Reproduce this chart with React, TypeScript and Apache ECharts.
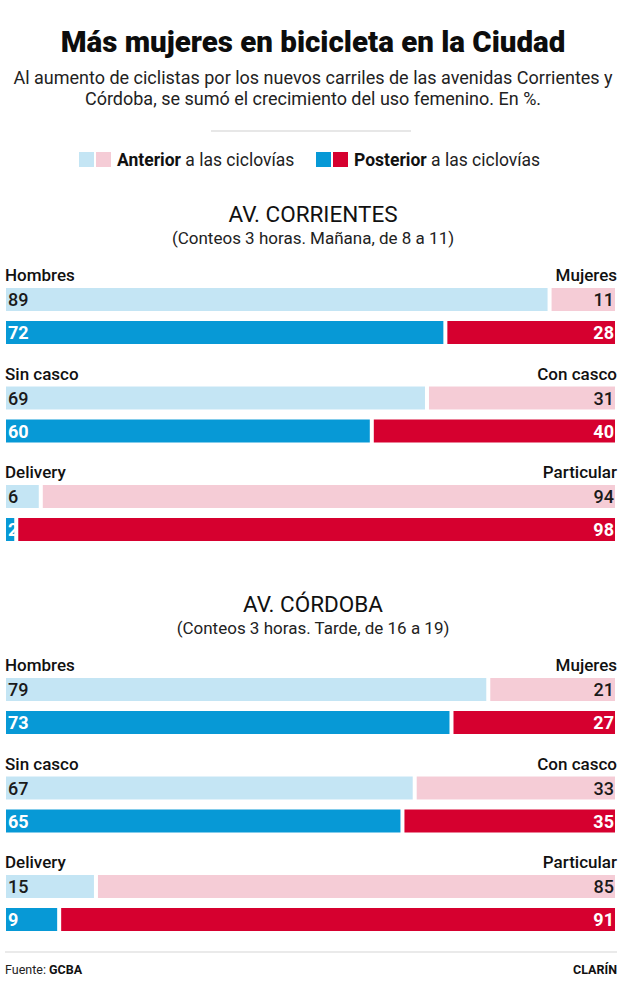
import React, { useEffect, useRef } from "react";
import * as echarts from "echarts";

const titleText = "Más mujeres en bicicleta en la Ciudad";
const subtitleLines = [
  "Al aumento de ciclistas por los nuevos carriles de las avenidas Corrientes y",
  "Córdoba, se sumó el crecimiento del uso femenino. En %.",
];
const sectionTitles = ["AV. CORRIENTES", "AV. CÓRDOBA"];
const sectionNotes = [
  "(Conteos 3 horas. Mañana, de 8 a 11)",
  "(Conteos 3 horas. Tarde, de 16 a 19)",
];
const leftLabels = ["Hombres", "Sin casco", "Delivery"];
const rightLabels = ["Mujeres", "Con casco", "Particular"];
const periods = ["Anterior", "Posterior"];

const corrientesLeftBefore = [89, 69, 6];
const corrientesRightBefore = [11, 31, 94];
const corrientesLeftAfter = [72, 60, 2];
const corrientesRightAfter = [28, 40, 98];
const cordobaLeftBefore = [79, 67, 15];
const cordobaRightBefore = [21, 33, 85];
const cordobaLeftAfter = [73, 65, 9];
const cordobaRightAfter = [27, 35, 91];

const sectionsData = [
  { leftBefore: corrientesLeftBefore, rightBefore: corrientesRightBefore, leftAfter: corrientesLeftAfter, rightAfter: corrientesRightAfter },
  { leftBefore: cordobaLeftBefore, rightBefore: cordobaRightBefore, leftAfter: cordobaLeftAfter, rightAfter: cordobaRightAfter },
];

const FONT = "Roboto, 'Noto Sans', sans-serif";
const C_LIGHT_BLUE = "#c4e5f4";
const C_LIGHT_PINK = "#f5ccd6";
const C_BLUE = "#0799d6";
const C_RED = "#d6002f";
const TEXT = "#141414";

export default function App() {
  const ref = useRef<HTMLDivElement>(null);
  useEffect(() => {
    if (!ref.current) return;
    const chart = echarts.init(ref.current, undefined, { renderer: "svg" });

    const W = 626;
    const grids: any[] = [];
    const xAxes: any[] = [];
    const yAxes: any[] = [];
    const series: any[] = [];
    const graphics: any[] = [];

    const txt = (x: number, y: number, text: string, size: number, opts: any = {}) => ({
      type: "text",
      x,
      y,
      style: {
        text,
        fontFamily: FONT,
        fontSize: size,
        fill: opts.fill || TEXT,
        fontWeight: opts.weight || "normal",
        textAlign: opts.align || "left",
        textVerticalAlign: "middle",
        rich: opts.rich,
      },
    });

    // Header
    graphics.push(txt(W / 2, 42, titleText, 29.5, { align: "center", weight: 900, fill: "#0d0d0d" }));
    subtitleLines.forEach((l, i) => graphics.push(txt(W / 2, 77 + i * 21, l, 18, { align: "center", fill: "#222" })));
    graphics.push({ type: "line", shape: { x1: 211, y1: 131, x2: 411, y2: 131 }, style: { stroke: "#cfcfcf", lineWidth: 1 } });

    // Legend
    const legendItems = [
      { x: 79, colors: [C_LIGHT_BLUE, C_LIGHT_PINK], label: periods[0] },
      { x: 316, colors: [C_BLUE, C_RED], label: periods[1] },
    ];
    legendItems.forEach((it) => {
      graphics.push({ type: "rect", shape: { x: it.x, y: 152, width: 15, height: 15 }, style: { fill: it.colors[0] } });
      graphics.push({ type: "rect", shape: { x: it.x + 17, y: 152, width: 15, height: 15 }, style: { fill: it.colors[1] } });
      graphics.push(
        txt(it.x + 38, 160, `{b|${it.label}} a las ciclovías`, 17.5, {
          fill: "#222",
          rich: { b: { fontFamily: FONT, fontSize: 17.5, fontWeight: "bold", fill: "#111" } },
        })
      );
    });

    const PLOT_L = 5;
    const PLOT_R = 616;
    const SECTION_STEP = 390;
    const GROUP_STEP = 98.5;

    sectionsData.forEach((sec, s) => {
      const off = s * SECTION_STEP;
      graphics.push(txt(W / 2, 214 + off, sectionTitles[s], 22.5, { align: "center", fill: "#111" }));
      graphics.push(txt(W / 2, 238 + off, sectionNotes[s], 17, { align: "center", fill: "#222" }));

      for (let g = 0; g < 3; g++) {
        const bar1Top = 287 + off + g * GROUP_STEP;
        const idx = grids.length;
        graphics.push(txt(PLOT_L, bar1Top - 12, leftLabels[g], 17, { weight: 500, fill: "#111" }));
        graphics.push(txt(PLOT_R + 1, bar1Top - 12, rightLabels[g], 17, { weight: 500, fill: "#111", align: "right" }));

        grids.push({ left: PLOT_L - 1, right: W - PLOT_R - 1, top: bar1Top - 4, height: 66, containLabel: false });
        xAxes.push({ type: "value", gridIndex: idx, min: 0, max: 100, show: false });
        yAxes.push({ type: "category", gridIndex: idx, data: periods, inverse: true, show: false });

        const mk = (vals: number[], colors: string[], textColors: string[], pos: string, name: string) => ({
          type: "bar",
          name,
          xAxisIndex: idx,
          yAxisIndex: idx,
          stack: "s" + idx,
          barWidth: 27,
          data: vals.map((v, i) => ({
            value: v,
            itemStyle: { color: colors[i], borderColor: "#ffffff", borderWidth: 2 },
            label: {
              color: textColors[i],
              fontWeight: i === 1 ? "bold" : 500,
            },
          })),
          label: {
            show: true,
            position: pos,
            distance: pos === "insideLeft" ? 4 : 3,
            fontFamily: FONT,
            fontSize: 18,
          },
          emphasis: { disabled: true },
        });

        series.push(
          mk([sec.leftBefore[g], sec.leftAfter[g]], [C_LIGHT_BLUE, C_BLUE], ["#1a1a1a", "#ffffff"], "insideLeft", leftLabels[g])
        );
        series.push(
          mk([sec.rightBefore[g], sec.rightAfter[g]], [C_LIGHT_PINK, C_RED], ["#1a1a1a", "#ffffff"], "insideRight", rightLabels[g])
        );
      }
    });

    // Footer
    graphics.push({ type: "line", shape: { x1: 5, y1: 952, x2: 617, y2: 952 }, style: { stroke: "#d5d5d5", lineWidth: 1 } });
    graphics.push(
      txt(5, 969, "Fuente: {b|GCBA}", 12.5, {
        fill: "#222",
        rich: { b: { fontFamily: FONT, fontSize: 12.5, fontWeight: "bold", fill: "#111" } },
      })
    );
    graphics.push(txt(617, 969, "CLARÍN", 12.5, { weight: "bold", align: "right", fill: "#111" }));

    chart.setOption({
      animation: false,
      backgroundColor: "#ffffff",
      grid: grids,
      xAxis: xAxes,
      yAxis: yAxes,
      series,
      graphic: graphics,
    });
    return () => chart.dispose();
  }, []);

  return (
    <div
      ref={ref}
      style={{ position: "absolute", left: 0, top: 0, width: 626, height: 1000, background: "#fff" }}
    />
  );
}
